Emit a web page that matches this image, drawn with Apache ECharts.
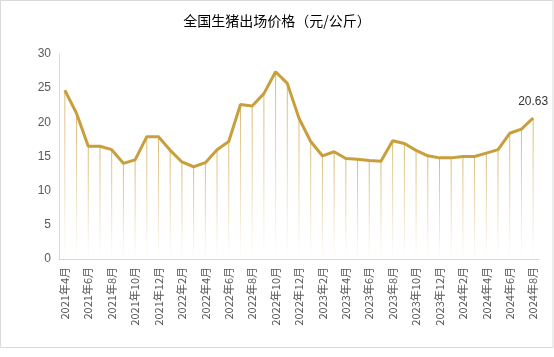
<!DOCTYPE html>
<html><head><meta charset="utf-8">
<script src="https://cdn.jsdelivr.net/npm/echarts@6/dist/echarts.min.js"></script>
<style>html,body{margin:0;padding:0;background:#fff}#c{width:554px;height:357px}</style>
</head><body><div id="c"></div>
<script>
const categories = ['2021年4月','2021年5月','2021年6月','2021年7月','2021年8月','2021年9月','2021年10月','2021年11月','2021年12月',
'2022年1月','2022年2月','2022年3月','2022年4月','2022年5月','2022年6月','2022年7月','2022年8月','2022年9月','2022年10月','2022年11月','2022年12月',
'2023年1月','2023年2月','2023年3月','2023年4月','2023年5月','2023年6月','2023年7月','2023年8月','2023年9月','2023年10月','2023年11月','2023年12月',
'2024年1月','2024年2月','2024年3月','2024年4月','2024年5月','2024年6月','2024年7月','2024年8月'];
const prices = [24.7,21.3,16.5,16.5,16.0,14.0,14.5,17.9,17.9,
15.9,14.2,13.5,14.1,16.0,17.2,22.6,22.4,24.2,27.4,25.7,20.6,
17.2,15.1,15.7,14.7,14.6,14.4,14.3,17.3,16.9,15.9,15.1,14.8,
14.8,15.0,15.0,15.5,16.0,18.4,19.0,20.63];
const titleText = '全国生猪出场价格（元/公斤）';

const chart = echarts.init(document.getElementById('c'));
const lineData = prices.map((v,i)=> i===prices.length-1 ? {value:v,label:{show:true,position:'top',distance:10,color:'#333',fontSize:12,formatter:'{c}'}} : v);
chart.setOption({
  animation:false,
  title:{text:titleText,left:'center',top:9,textStyle:{fontSize:14,fontWeight:'normal',color:'#000',fontFamily:'Noto Sans CJK SC'}},
  graphic:[{type:'rect',shape:{x:0.5,y:0.5,width:552.5,height:347},style:{fill:'none',stroke:'#d9d9d9',lineWidth:1},silent:true}],
  grid:{left:59,right:15,top:54,bottom:98},
  xAxis:{type:'category',data:categories,boundaryGap:true,
    axisLine:{lineStyle:{color:'#d9d9d9'}},axisTick:{show:false},
    axisLabel:{rotate:90,interval:1,color:'#595959',fontSize:11,margin:8,fontFamily:'Noto Sans CJK SC'}},
  yAxis:{type:'value',min:0,max:30,interval:5,
    axisLine:{show:true,lineStyle:{color:'#d9d9d9'}},axisTick:{show:false},splitLine:{show:false},
    axisLabel:{color:'#595959',fontSize:12,margin:8}},
  series:[
    {type:'bar',data:prices,barWidth:1,silent:true,
      itemStyle:{color:new echarts.graphic.LinearGradient(0,0,0,1,[{offset:0,color:'rgba(205,168,80,0.8)'},{offset:1,color:'rgba(205,168,80,0)'}])}},
    {type:'line',data:lineData,symbol:'circle',symbolSize:0,showSymbol:true,lineStyle:{color:'#c89f3c',width:3},itemStyle:{color:'#c89f3c'},z:5}
  ]
});
</script></body></html>
